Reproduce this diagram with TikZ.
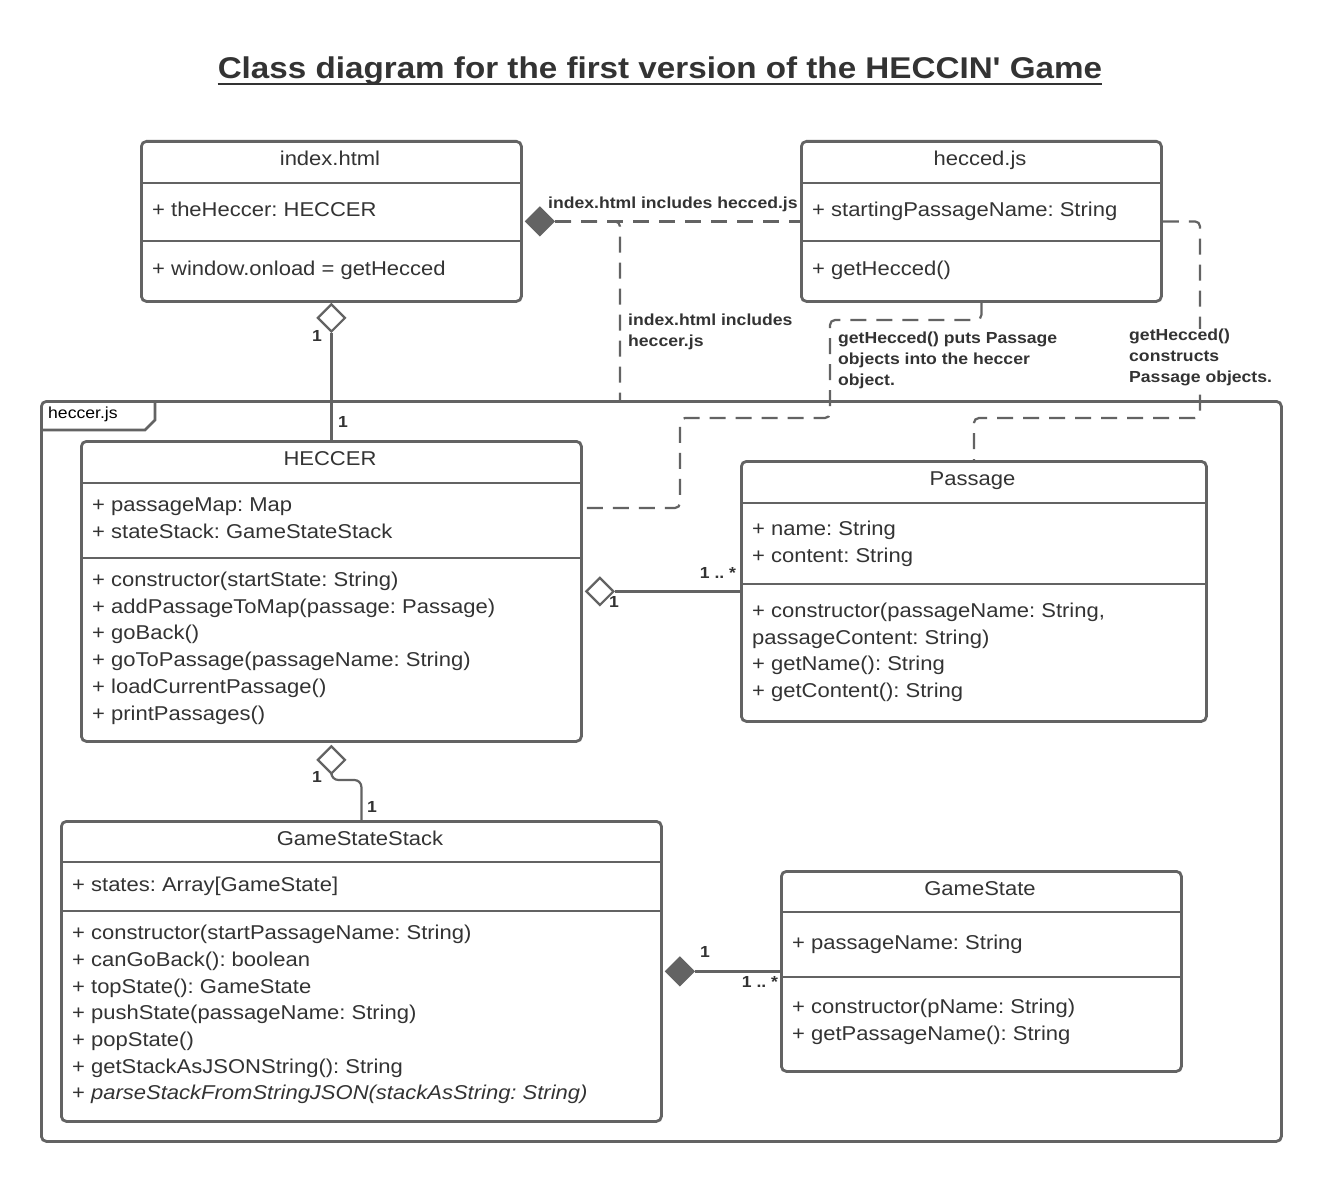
\documentclass[tikz,border=0pt]{standalone}
\usepackage{fontspec}
\setmainfont{Liberation Sans}
\newfontfamily\mf{Liberation Sans}[FakeStretch=1.1]
\newfontfamily\tf{Liberation Sans}[FakeStretch=1.107]
\usetikzlibrary{shapes.geometric,calc}
\definecolor{ln}{HTML}{636363}
\definecolor{tx}{HTML}{333333}
\frenchspacing
\begin{document}
\begin{tikzpicture}[x=1pt,y=-1pt,
  box/.style={draw=ln, line width=2.8pt, rounded corners=5pt, anchor=north west, inner sep=0pt, fill=white},
  sepline/.style={draw=ln, line width=2.8pt},
  ctitle/.style={font=\mf\fontsize{20}{24}\selectfont, text=tx, anchor=base, inner sep=0pt},
  mem/.style={font=\mf\fontsize{20}{24}\selectfont, text=tx, anchor=base west, inner sep=0pt},
  lbl/.style={font=\mf\bfseries\fontsize{16}{21.2}\selectfont, text=tx, align=left, anchor=north west, inner sep=0pt},
  mult/.style={font=\mf\bfseries\fontsize{16}{20}\selectfont, text=tx, anchor=center, inner sep=0pt},
  conn/.style={draw=ln, line width=2.2pt},
  dconn/.style={conn, dash pattern=on 16pt off 10pt, rounded corners=5pt},
  odia/.style={shape=diamond, draw=ln, line width=2.2pt, fill=white, inner sep=0pt, minimum width=28pt, minimum height=28pt},
  fdia/.style={shape=diamond, draw=ln, line width=2.2pt, fill=ln, inner sep=0pt, minimum width=28pt, minimum height=28pt}
]
\useasboundingbox (0,0) rectangle (1320,1180);

% title
\node[font=\tf\bfseries\fontsize{30}{36}\selectfont, text=tx, anchor=base, inner sep=0pt] (title) at (660,79) {Class diagram for the first version of the HECCIN' Game};
\draw[draw=tx, line width=2.6pt] ($(title.base west)+(0,5)$) -- ($(title.base east)+(0,5)$);

% package
\node[box, minimum width=1240pt, minimum height=740pt] (pkg) at (40,400) {};
\draw[sepline] (40,430) -- (145,430) -- (155,420) -- (155,400);
\node[font=\mf\fontsize{16}{20}\selectfont, text=black, anchor=base west, inner sep=0pt] (pkgname) at (48,418) {heccer.js};

% index.html
\node[box, minimum width=380pt, minimum height=160pt] (idx) at (140,140) {};
\draw[sepline] (140,183) -- (520,183);
\draw[sepline] (140,241) -- (520,241);
\node[ctitle] (idxt) at (330,165) {index.html};
\node[mem] (idx1) at (152,216) {+ theHeccer: HECCER};
\node[mem] (idx2) at (152,275) {+ window.onload = getHecced};

% hecced.js
\node[box, minimum width=360pt, minimum height=160pt] (hec) at (800,140) {};
\draw[sepline] (800,183) -- (1160,183);
\draw[sepline] (800,241) -- (1160,241);
\node[ctitle] (hect) at (980,165) {hecced.js};
\node[mem] (hec1) at (812,216) {+ startingPassageName: String};
\node[mem] (hec2) at (812,275) {+ getHecced()};

% HECCER
\node[box, minimum width=500pt, minimum height=300pt] (hc) at (80,440) {};
\draw[sepline] (80,483) -- (580,483);
\draw[sepline] (80,558) -- (580,558);
\node[ctitle] (hct) at (330,465) {HECCER};
\node[mem] (hc1) at (92,511) {+ passageMap: Map};
\node[mem] (hc2) at (92,538) {+ stateStack: GameStateStack};
\node[mem] (hc3) at (92,586) {+ constructor(startState: String)};
\node[mem] (hc4) at (92,613) {+ addPassageToMap(passage: Passage)};
\node[mem] (hc5) at (92,639) {+ goBack()};
\node[mem] (hc6) at (92,666) {+ goToPassage(passageName: String)};
\node[mem] (hc7) at (92,693) {+ loadCurrentPassage()};
\node[mem] (hc8) at (92,720) {+ printPassages()};

% Passage
\node[box, minimum width=465pt, minimum height=260pt] (ps) at (740,460) {};
\draw[sepline] (740,503) -- (1205,503);
\draw[sepline] (740,584) -- (1205,584);
\node[ctitle] (pst) at (972.5,485) {Passage};
\node[mem] (ps1) at (752,535) {+ name: String};
\node[mem] (ps2) at (752,562) {+ content: String};
\node[mem] (ps3) at (752,617) {+ constructor(passageName: String,};
\node[mem] (ps4) at (752,644) {passageContent: String)};
\node[mem] (ps5) at (752,670) {+ getName(): String};
\node[mem] (ps6) at (752,697) {+ getContent(): String};

% GameStateStack
\node[box, minimum width=600pt, minimum height=300pt] (gss) at (60,820) {};
\draw[sepline] (60,862) -- (660,862);
\draw[sepline] (60,911) -- (660,911);
\node[ctitle] (gsst) at (360,845) {GameStateStack};
\node[mem] (gss1) at (72,891) {+ states: Array[GameState]};
\node[mem] (gss2) at (72,939) {+ constructor(startPassageName: String)};
\node[mem] (gss3) at (72,966) {+ canGoBack(): boolean};
\node[mem] (gss4) at (72,993) {+ topState(): GameState};
\node[mem] (gss5) at (72,1019) {+ pushState(passageName: String)};
\node[mem] (gss6) at (72,1046) {+ popState()};
\node[mem] (gss7) at (72,1073) {+ getStackAsJSONString(): String};
\node[mem] (gss8) at (72,1099) {+ \textit{parseStackFromStringJSON(stackAsString: String)}};

% GameState
\node[box, minimum width=400pt, minimum height=200pt] (gs) at (780,870) {};
\draw[sepline] (780,912) -- (1180,912);
\draw[sepline] (780,977) -- (1180,977);
\node[ctitle] (gst) at (980,895) {GameState};
\node[mem] (gs1) at (792,949) {+ passageName: String};
\node[mem] (gs2) at (792,1013) {+ constructor(pName: String)};
\node[mem] (gs3) at (792,1040) {+ getPassageName(): String};

% index.html -- HECCER (aggregation)
\node[odia, anchor=north] (d1) at (idx.south) {};
\draw[conn] (d1.south) -- (hc.north);
\node[mult] (m1a) at (317,336) {1};
\node[mult] (m1b) at (343,422) {1};

% index.html -- hecced.js (composition, dashed)
\node[fdia, anchor=west] (d2) at ($(idx.east)+(2,0)$) {};
\draw[dconn] (d2.east) -- (hec.west);
\node[font=\mf\bfseries\fontsize{16}{20}\selectfont, text=tx, anchor=base west, inner sep=0pt] (l1) at (548,208) {index.html includes hecced.js};

% index.html includes heccer.js
\coordinate (j1) at (620,400);
\draw[dconn] (d2.east) -| (j1);
\node[lbl] (l2) at (628,313.5) {index.html includes\\heccer.js};

% hecced.js -- HECCER
\draw[dconn] (hec.south) |- (830,320) |- (680,418) |- ($(hc.north east)+(0,68)$);
\node[lbl] (l3) at (838,331.5) {getHecced() puts Passage\\objects into the heccer\\object.};

% hecced.js -- Passage
\draw[dconn] (hec.east) -| (1200,418) -| (ps.north);
\node[lbl, fill=white] (l4) at (1129,328.5) {getHecced()\\constructs\\Passage objects.};

% HECCER -- Passage (aggregation)
\node[odia, anchor=west] (d3) at ($(hc.east)+(2,0)$) {};
\draw[conn] (d3.east) -- (ps.west);
\node[mult] (m3a) at (614,602) {1};
\node[mult] (m3b) at (718,573) {1 .. *};

% HECCER -- GameStateStack (aggregation)
\node[odia, anchor=north] (d4) at ($(hc.south)+(0,2)$) {};
\draw[conn, rounded corners=7pt] (d4.south) |- ($(gss.north)+(0,-40)$) -- (gss.north);
\node[mult] (m4a) at (317,777) {1};
\node[mult] (m4b) at (372,807) {1};

% GameStateStack -- GameState (composition)
\node[fdia, anchor=west] (d5) at ($(gss.east)+(2,0)$) {};
\draw[conn] (d5.east) -- (gs.west);
\node[mult] (m5a) at (705,952) {1};
\node[mult] (m5b) at (760,982) {1 .. *};
\end{tikzpicture}
\end{document}
